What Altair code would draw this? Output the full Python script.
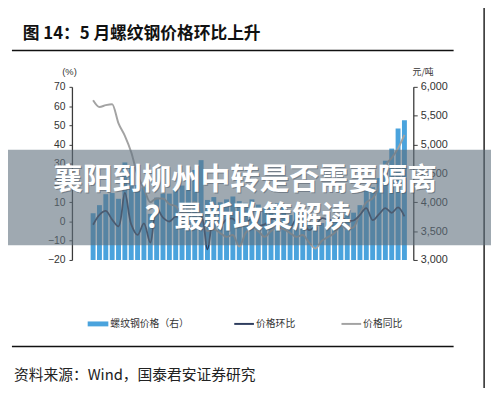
import altair as alt
import pandas as pd

# ---------------- data ----------------
months = [f"{y}-{m:02d}" for y in range(2017, 2022) for m in range(1, 13)]
months = months[months.index("2017-04"):months.index("2021-05") + 1]

price = [3810, 3950, 4140, 4160, 4060, 4690, 4620, 4300, 4260, 3800,
         4080, 4150, 4150, 4250, 4290, 4400, 4560, 4730, 4040, 4090,
         4000, 4050, 4100, 4020, 3990, 4050, 3960, 3900, 3950, 3980,
         3920, 3780, 3830, 3820, 3650, 3580, 3640, 3670, 3700, 3780,
         3800, 3820, 3950, 4230, 4260, 4420, 4720, 4930, 5280, 5420]

mom = [-1.7, 3.5, 5.5, 1.0, -2.5, 15.0, -1.5, -7.0, -1.0, -11.0,
       7.0, 2.0, 0.0, 2.5, 1.0, 3.0, 4.0, 3.0, -14.5, 1.5,
       -2.0, 1.0, 1.5, -2.0, -1.0, 1.5, -2.0, -1.5, 1.3, 0.8,
       -1.5, -3.5, 1.3, 0.0, -4.5, -2.0, 1.7, 0.8, 0.8, 2.0,
       0.5, 0.5, 3.4, 7.0, 0.7, 3.8, 7.0, 4.5, 7.3, 2.6]

yoy = [63.0, 59.5, 60.5, 61.0, 51.0, 44.5, 36.0, 24.0, 17.0, 10.0,
       12.0, 12.0, 9.0, 8.0, 4.0, 6.0, 10.0, 3.0, -5.0, -4.0,
       -6.0, -8.0, -7.0, -13.0, -6.0, -3.0, -5.0, -8.0, -5.0, -3.0,
       -4.0, -6.0, -8.0, -7.0, -11.0, -14.0, -10.0, -8.0, -6.0, -2.0,
       -4.0, -3.0, 4.0, 10.0, 12.0, 18.0, 29.0, 33.0, 38.0, 45.0]

tick_labels = ["2017-04", "2017-10", "2018-04", "2018-10", "2019-04",
               "2019-10", "2020-04", "2020-10", "2021-04"]

left_ticks = [-20, -10, 0, 10, 20, 30, 40, 50, 60, 70]
right_ticks = [3000, 3500, 4000, 4500, 5000, 5500, 6000]

df = pd.DataFrame({"i": list(range(len(months))), "month": months,
                   "price": price, "mom": mom, "yoy": yoy})
one = pd.DataFrame({"a": [0]})

# ---------------- scales / axes ----------------
tick_start, tick_step = -2.105, 6.241
tick_pos = [tick_start + tick_step * k for k in range(len(tick_labels))]
label_arr = "[" + ",".join(f"'{t}'" for t in tick_labels) + "]"
label_expr = f"{label_arr}[round((datum.value - ({tick_start}))/{tick_step})]"

xscale = alt.Scale(domain=[-2.556, 49.62], nice=False, zero=False)
cjk = "Noto Sans CJK SC"
num_font = "Liberation Sans"
axis_col = "#3a3a3a"

x_axis = alt.Axis(values=tick_pos, labelExpr=label_expr, labelAngle=-45,
                  domain=False, ticks=False, grid=False, labelFontSize=11,
                  labelColor="#333333", labelFont=num_font, title=None,
                  labelPadding=6, labelOverlap=False)

bars = alt.Chart(df).mark_bar(size=5, color="#4AA3DD").encode(
    x=alt.X("i:Q", scale=xscale, axis=x_axis),
    y=alt.Y("price:Q", scale=alt.Scale(domain=[3000, 6000], nice=False, zero=False),
            axis=alt.Axis(orient="right", values=right_ticks, format=",d", grid=False,
                          domainColor=axis_col, tickColor=axis_col, tickSize=4,
                          domainWidth=1.3, labelFontSize=11, labelFont=num_font,
                          labelColor="#333333", labelPadding=3, title=None)),
    y2=alt.datum(3000),
)

yscale_l = alt.Scale(domain=[-20, 70], nice=False, zero=False)
left_axis = alt.Axis(orient="left", values=left_ticks, grid=False,
                     domainColor=axis_col, tickColor=axis_col, tickSize=3,
                     domainWidth=1.3, labelFontSize=10.5, labelFont=num_font,
                     labelColor="#333333", labelPadding=4, title=None)

line_yoy = alt.Chart(df).mark_line(color="#A3A3A3", strokeWidth=2,
                                   interpolate="monotone").encode(
    x=alt.X("i:Q", scale=xscale, axis=None),
    y=alt.Y("yoy:Q", scale=yscale_l, axis=left_axis),
)
line_mom = alt.Chart(df).mark_line(color="#2E3D5E", strokeWidth=1.8,
                                   interpolate="catmull-rom").encode(
    x=alt.X("i:Q", scale=xscale, axis=None),
    y=alt.Y("mom:Q", scale=yscale_l, axis=left_axis),
)
lines = alt.layer(line_yoy, line_mom)


def txt(s, x, y, size, color="#333333", weight="normal", align="left",
        font=cjk, opacity=1.0):
    return alt.Chart(one).mark_text(
        text=s, fontSize=size, color=color, fontWeight=weight, align=align,
        baseline="middle", font=font, opacity=opacity
    ).encode(x=alt.value(x), y=alt.value(y))


def rule(x1, x2, y1, y2, color, width):
    return alt.Chart(one).mark_rule(color=color, strokeWidth=width).encode(
        x=alt.value(x1), x2=alt.value(x2), y=alt.value(y1), y2=alt.value(y2))


title = txt("图 14：5 月螺纹钢价格环比上升", -50, -54, 17, color="#111111", weight="bold")
top_rule = rule(-61, 388, -37, -37, "#111111", 1.6)
bottom_rule = rule(-61, 388, 264, 264, "#111111", 1.6)
right_border = rule(419, 419, -85, 320, "#222222", 1.5)
unit_l = txt("(%)", -2.5, -15, 9.5, align="center", font=num_font)
unit_r = txt("元/吨", 357, -15, 9, align="center")

leg_rect = alt.Chart(one).mark_rect(color="#4AA3DD").encode(
    x=alt.value(16), x2=alt.value(37), y=alt.value(238.5), y2=alt.value(243.5))
leg_t1 = txt("螺纹钢价格（右）", 39, 241, 10)
leg_l2 = rule(165, 185, 241, 241, "#2E3D5E", 2)
leg_t2 = txt("价格环比", 187, 241, 10)
leg_l3 = rule(274, 294, 241, 241, "#A3A3A3", 2)
leg_t3 = txt("价格同比", 296, 241, 10)
source = txt("资料来源：Wind，国泰君安证券研究", -59, 293, 15, color="#222222")

banner = alt.Chart(one).mark_rect(color="#5F6F7D", opacity=0.6).encode(
    x=alt.value(-73), x2=alt.value(430), y=alt.value(64), y2=alt.value(161))
b1s = txt("襄阳到柳州中转是否需要隔离", 177, 96, 30, color="#4a5560", weight="bold",
          align="center", opacity=0.5)
b1 = txt("襄阳到柳州中转是否需要隔离", 176, 95, 30, color="#ffffff", weight="bold",
         align="center")
b2s = txt("？最新政策解读", 180, 134, 30, color="#4a5560", weight="bold",
          align="center", opacity=0.5)
b2 = txt("？最新政策解读", 179, 133, 30, color="#ffffff", weight="bold",
         align="center")

chart = alt.layer(
    bars, lines,
    title, top_rule, bottom_rule, right_border, unit_l, unit_r,
    leg_rect, leg_t1, leg_l2, leg_t2, leg_l3, leg_t3, source,
    banner, b1s, b1, b2s, b2,
).resolve_scale(y="independent").properties(
    width=347, height=176,
    autosize=alt.AutoSizeParams(type="none"),
    padding={"left": 65, "top": 77, "right": 79, "bottom": 127},
    background="white",
).configure_view(stroke=None)

chart.save("out.html", embed_options={"renderer": "svg", "actions": False})
